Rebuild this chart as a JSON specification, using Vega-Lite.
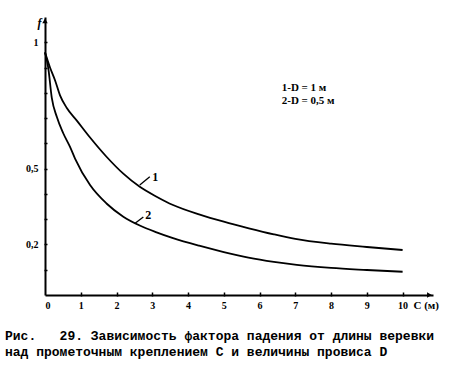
{
  "$schema": "https://vega.github.io/schema/vega-lite/v6.json",
  "width": 388,
  "height": 278,
  "autosize": {"type": "none"},
  "padding": {"left": 45, "top": 17, "right": 32, "bottom": 76},
  "background": "white",
  "config": {
    "view": {"stroke": null},
    "axis": {
      "grid": false,
      "domainColor": "black",
      "domainWidth": 2,
      "tickColor": "black",
      "tickWidth": 1.5,
      "labelColor": "black",
      "labelFont": "Liberation Serif",
      "labelFontWeight": "bold",
      "labelFontSize": 10,
      "labelOverlap": false,
      "labelBound": false,
      "titleColor": "black"
    }
  },
  "title": {
    "text": ["Рис.\u00a0\u00a0\u00a029. Зависимость фактора падения от длины веревки", "над прометочным креплением C и величины провиса D"],
    "orient": "bottom",
    "anchor": "start",
    "frame": "group",
    "dx": -40,
    "offset": 20,
    "font": "Liberation Mono",
    "fontSize": 13,
    "fontWeight": "bold",
    "lineHeight": 16,
    "color": "black"
  },
  "resolve": {"axis": {"x": "independent", "y": "independent"}},
  "layer": [
    {
      "data": {"values": [
        {"curve": "1", "C": 0, "f": 0.96},
        {"curve": "1", "C": 0.14, "f": 0.9},
        {"curve": "1", "C": 0.28, "f": 0.85},
        {"curve": "1", "C": 0.42, "f": 0.79},
        {"curve": "1", "C": 0.61, "f": 0.74},
        {"curve": "1", "C": 0.89, "f": 0.69},
        {"curve": "1", "C": 1.26, "f": 0.623},
        {"curve": "1", "C": 1.72, "f": 0.547},
        {"curve": "1", "C": 2.19, "f": 0.48},
        {"curve": "1", "C": 2.65, "f": 0.428},
        {"curve": "1", "C": 3.12, "f": 0.389},
        {"curve": "1", "C": 3.58, "f": 0.356},
        {"curve": "1", "C": 4.33, "f": 0.318},
        {"curve": "1", "C": 5.0, "f": 0.29},
        {"curve": "1", "C": 5.7, "f": 0.264},
        {"curve": "1", "C": 6.4, "f": 0.24},
        {"curve": "1", "C": 7.0, "f": 0.222},
        {"curve": "1", "C": 8.0, "f": 0.203},
        {"curve": "1", "C": 9.0, "f": 0.19},
        {"curve": "1", "C": 10.0, "f": 0.178},
        {"curve": "2", "C": 0, "f": 0.96},
        {"curve": "2", "C": 0.09, "f": 0.9},
        {"curve": "2", "C": 0.19, "f": 0.78},
        {"curve": "2", "C": 0.33, "f": 0.705},
        {"curve": "2", "C": 0.51, "f": 0.64},
        {"curve": "2", "C": 0.7, "f": 0.586},
        {"curve": "2", "C": 0.84, "f": 0.54},
        {"curve": "2", "C": 1.26, "f": 0.435},
        {"curve": "2", "C": 1.72, "f": 0.362},
        {"curve": "2", "C": 2.19, "f": 0.31},
        {"curve": "2", "C": 2.65, "f": 0.275},
        {"curve": "2", "C": 3.12, "f": 0.248},
        {"curve": "2", "C": 3.58, "f": 0.225},
        {"curve": "2", "C": 4.31, "f": 0.195},
        {"curve": "2", "C": 5.0, "f": 0.17},
        {"curve": "2", "C": 5.69, "f": 0.148},
        {"curve": "2", "C": 6.4, "f": 0.131},
        {"curve": "2", "C": 7.04, "f": 0.119},
        {"curve": "2", "C": 8.0, "f": 0.107},
        {"curve": "2", "C": 9.0, "f": 0.099},
        {"curve": "2", "C": 10.0, "f": 0.092}
      ]},
      "mark": {"type": "line", "interpolate": "monotone", "strokeWidth": 1.8, "color": "black"},
      "encoding": {
        "x": {
          "field": "C", "type": "quantitative",
          "scale": {"domain": [0, 10.85], "nice": false, "zero": false},
          "axis": {
            "orient": "bottom",
            "values": [0, 1, 2, 3, 4, 5, 6, 7, 8, 9, 10],
            "format": "d",
            "ticks": false,
            "labelPadding": 5,
            "title": "C (м)",
            "titleX": 368,
            "titleY": 10,
            "titleAlign": "left",
            "titleBaseline": "middle",
            "titleFont": "Liberation Serif",
            "titleFontSize": 11,
            "titleFontWeight": "bold"
          }
        },
        "y": {
          "field": "f", "type": "quantitative",
          "scale": {"domain": [0, 1.1], "nice": false, "zero": false},
          "axis": {
            "orient": "left",
            "values": [0.2, 0.5, 1],
            "labelExpr": "datum.value == 1 ? '1' : datum.value == 0.5 ? '0,5' : '0,2'",
            "ticks": false,
            "labelPadding": 7,
            "title": "f",
            "titleAngle": 0,
            "titleX": -4,
            "titleY": 5,
            "titleAlign": "right",
            "titleBaseline": "middle",
            "titleFont": "Liberation Serif",
            "titleFontStyle": "italic",
            "titleFontSize": 12,
            "titleFontWeight": "bold"
          }
        },
        "detail": {"field": "curve"}
      }
    },
    {
      "data": {"values": [
        {"C": 2.65, "f": 0.435, "C2": 2.93, "f2": 0.468},
        {"C": 2.51, "f": 0.283, "C2": 2.75, "f2": 0.309}
      ]},
      "mark": {"type": "rule", "color": "black", "strokeWidth": 1.3},
      "encoding": {
        "x": {
          "field": "C", "type": "quantitative",
          "axis": {"orient": "top", "offset": -279, "values": [1, 2, 3, 4, 5, 6, 7, 8, 9, 10], "labels": false, "domain": false, "ticks": true, "tickSize": 4, "tickColor": "black", "tickWidth": 1.5, "title": null}
        },
        "y": {
          "field": "f", "type": "quantitative",
          "axis": {"orient": "right", "offset": -389, "values": [0.1, 0.2, 0.3, 0.4, 0.5, 0.6, 0.7, 0.8, 0.9, 1], "labels": false, "domain": false, "ticks": true, "tickSize": 3, "tickColor": "black", "tickWidth": 1.5, "title": null}
        },
        "x2": {"field": "C2"},
        "y2": {"field": "f2"}
      }
    },
    {
      "data": {"values": [
        {"C": 3.0, "f": 0.468, "t": "1"},
        {"C": 2.8, "f": 0.318, "t": "2"}
      ]},
      "mark": {"type": "text", "align": "left", "baseline": "middle", "font": "Liberation Serif", "fontSize": 12, "fontWeight": "bold", "color": "black"},
      "encoding": {
        "x": {"field": "C", "type": "quantitative", "axis": null},
        "y": {"field": "f", "type": "quantitative", "axis": null},
        "text": {"field": "t"}
      }
    },
    {
      "data": {"values": [
        {"C": 6.62, "f": 0.818, "t": "1-D = 1 м"},
        {"C": 6.62, "f": 0.767, "t": "2-D = 0,5 м"}
      ]},
      "mark": {"type": "text", "align": "left", "baseline": "middle", "font": "Liberation Serif", "fontSize": 11, "fontWeight": "bold", "color": "black"},
      "encoding": {
        "x": {"field": "C", "type": "quantitative", "axis": null},
        "y": {"field": "f", "type": "quantitative", "axis": null},
        "text": {"field": "t"}
      }
    },
    {
      "data": {"values": [{"C": 0, "f": 1.085}]},
      "mark": {"type": "point", "shape": "triangle-up", "filled": true, "color": "black", "size": 30, "opacity": 1},
      "encoding": {
        "x": {"field": "C", "type": "quantitative", "axis": null},
        "y": {"field": "f", "type": "quantitative", "axis": null}
      }
    },
    {
      "data": {"values": [{"C": 10.75, "f": 0}]},
      "mark": {"type": "point", "shape": "triangle-right", "filled": true, "color": "black", "size": 30, "opacity": 1},
      "encoding": {
        "x": {"field": "C", "type": "quantitative", "axis": null},
        "y": {"field": "f", "type": "quantitative", "axis": null}
      }
    }
  ]
}
